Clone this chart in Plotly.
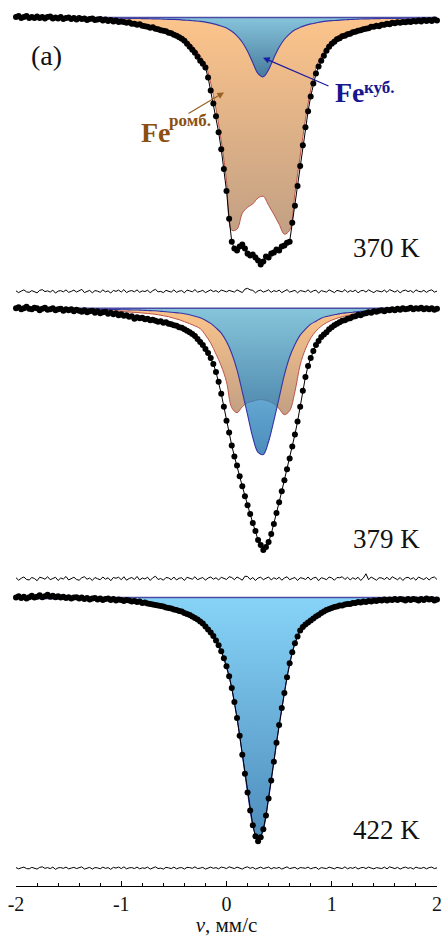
import numpy as np
import plotly.graph_objects as go

# ---------------- data (relative transmission, %) ----------------
# experimental spectra, velocity channels -2 ... 2 mm/s, step 0.025
T370_obs = [
    100.02, 100.06, 99.98, 100.02, 100.06, 99.98, 100.02, 99.98, 100.04, 99.98,
    100.02, 99.96, 100.02, 100.04, 99.96, 100.00, 99.96, 100.02, 99.94, 99.98,
    100.00, 99.94, 99.98, 99.92, 99.98, 99.94, 99.96, 99.90, 99.94, 99.96,
    99.90, 99.92, 99.94, 99.88, 99.92, 99.86, 99.90, 99.84, 99.88, 99.82,
    99.84,
    99.82, 99.78, 99.80, 99.74, 99.74, 99.70, 99.72, 99.66, 99.64, 99.62,
    99.58, 99.60, 99.54, 99.52, 99.48, 99.46, 99.44, 99.38, 99.36, 99.30,
    99.26, 99.20, 99.14, 99.06, 98.94, 98.82, 98.70, 98.58, 98.42, 98.26,
    98.14, 97.98, 97.58, 97.06, 96.54, 96.02, 95.38, 94.70, 93.90, 93.02,
    91.90, 90.98, 90.70, 90.62, 90.78, 90.86, 90.70, 90.50, 90.42, 90.46,
    90.34, 90.22, 90.06, 90.18, 90.38, 90.34, 90.50, 90.54, 90.66, 90.62,
    90.78, 90.82, 90.94, 90.98, 91.74, 92.42, 93.22, 94.02, 94.86, 95.58,
    96.22, 96.82, 97.34, 97.74, 98.02, 98.26, 98.46, 98.66, 98.82, 98.94,
    99.02, 99.12, 99.16, 99.24, 99.26, 99.32, 99.34, 99.40, 99.42, 99.46,
    99.48, 99.52, 99.54, 99.56, 99.62, 99.62, 99.66, 99.64, 99.70, 99.70,
    99.74, 99.72, 99.78, 99.76, 99.80, 99.78, 99.82, 99.80, 99.84, 99.82,
    99.86, 99.84, 99.88, 99.84, 99.90, 99.86, 99.90, 99.86, 99.92, 99.88,
]
T379_obs = [
    100.00, 100.04, 99.96, 100.00, 100.06, 99.98, 99.96, 100.02, 100.00, 99.92,
    99.98, 100.02, 99.94, 99.96, 100.00, 99.92, 99.96, 99.98, 99.90, 99.96,
    99.92, 99.96, 99.88, 99.94, 99.90, 99.86, 99.92, 99.84, 99.88, 99.90,
    99.82, 99.88, 99.80, 99.84, 99.86, 99.78, 99.82, 99.76, 99.80, 99.72,
    99.76,
    99.70, 99.72, 99.66, 99.68, 99.58, 99.64, 99.60, 99.62, 99.56, 99.58,
    99.52, 99.54, 99.50, 99.46, 99.48, 99.42, 99.44, 99.38, 99.36, 99.32,
    99.30, 99.24, 99.22, 99.16, 99.10, 99.04, 98.96, 98.88, 98.76, 98.64,
    98.52, 98.36, 98.20, 98.00, 97.76, 97.44, 97.04, 96.56, 96.04, 95.48,
    95.00, 94.48, 94.04, 93.68, 93.24, 92.84, 92.44, 92.08, 91.72, 91.36,
    91.04, 90.68, 90.48, 90.28, 90.40, 90.60, 90.92, 91.32, 91.76, 92.20,
    92.64, 93.08, 93.52, 93.96, 94.44, 94.92, 95.44, 96.04, 96.68, 97.24,
    97.68, 98.00, 98.28, 98.52, 98.68, 98.84, 98.94, 99.04, 99.16, 99.24,
    99.32, 99.38, 99.44, 99.50, 99.52, 99.58, 99.60, 99.66, 99.68, 99.74,
    99.72, 99.78, 99.80, 99.84, 99.82, 99.88, 99.86, 99.90, 99.92, 99.88,
    99.94, 99.92, 99.96, 99.92, 99.98, 99.94, 100.00, 99.96, 99.98, 100.02,
    99.96, 100.00, 99.98, 100.02, 99.96, 100.00, 99.96, 100.00, 99.94, 99.98,
]
T422_obs = [
    100.00, 100.06, 99.98, 100.04, 99.96, 100.02, 100.08, 100.00, 100.04, 100.10,
    100.02, 100.06, 100.12, 100.04, 100.08, 100.02, 100.06, 100.00, 100.04, 99.98,
    100.02, 99.96, 100.00, 100.02, 99.96, 100.00, 99.94, 99.98, 99.92, 99.96,
    99.98, 99.92, 99.96, 99.90, 99.94, 99.96, 99.90, 99.94, 99.88, 99.92,
    99.90,
    99.86, 99.90, 99.88, 99.84, 99.86, 99.82, 99.84, 99.78, 99.80, 99.76,
    99.74, 99.72, 99.70, 99.68, 99.66, 99.64, 99.60, 99.58, 99.56, 99.52,
    99.50, 99.46, 99.44, 99.38, 99.34, 99.30, 99.24, 99.18, 99.12, 99.04,
    98.96, 98.84, 98.72, 98.60, 98.46, 98.28, 98.08, 97.84, 97.56, 97.24,
    96.84, 96.36, 95.80, 95.16, 94.44, 93.68, 92.92, 92.16, 91.44, 90.84,
    90.40, 90.20, 90.36, 90.68, 91.24, 91.92, 92.64, 93.40, 94.16, 94.88,
    95.56, 96.16, 96.80, 97.36, 97.80, 98.16, 98.44, 98.68, 98.82, 98.92,
    99.00, 99.08, 99.16, 99.24, 99.30, 99.38, 99.44, 99.50, 99.54, 99.58,
    99.62, 99.64, 99.68, 99.68, 99.72, 99.74, 99.74, 99.78, 99.78, 99.82,
    99.80, 99.84, 99.82, 99.86, 99.84, 99.88, 99.86, 99.90, 99.88, 99.92,
    99.88, 99.92, 99.90, 99.94, 99.90, 99.94, 99.92, 99.88, 99.94, 99.90,
    99.94, 99.92, 99.88, 99.94, 99.90, 99.96, 99.92, 99.94, 99.88, 99.92,
]

# fitted subspectra, -2 ... 2 mm/s, step 0.05
T370_romb = [
    99.97, 99.97, 99.96, 99.96, 99.96, 99.96, 99.96, 99.96, 99.95, 99.95,
    99.94, 99.94, 99.94, 99.93, 99.93, 99.92, 99.92, 99.91, 99.90, 99.89,
    99.88, 99.86, 99.84, 99.80, 99.75, 99.70, 99.64, 99.58, 99.53, 99.46,
    99.38, 99.30, 99.17, 98.98, 98.74, 98.46, 98.12, 97.36, 96.32, 95.04,
    93.44, 91.44, 91.48, 92.12, 92.36, 92.50, 92.74, 92.80, 92.44, 92.08,
    91.68, 91.28, 91.44, 92.92, 94.42, 95.90, 97.08, 97.96, 98.44, 98.82,
    99.07, 99.24, 99.34, 99.41, 99.48, 99.54, 99.58, 99.63, 99.67, 99.71,
    99.74, 99.77, 99.80, 99.82, 99.83, 99.85, 99.87, 99.88, 99.88, 99.89,
    99.90,
]
T370_cub = [
    99.99, 99.99, 99.99, 99.99, 99.99, 99.99, 99.99, 99.98, 99.98, 99.98,
    99.98, 99.98, 99.98, 99.98, 99.98, 99.98, 99.97, 99.97, 99.97, 99.97,
    99.97, 99.96, 99.96, 99.96, 99.95, 99.95, 99.94, 99.94, 99.93, 99.92,
    99.92, 99.91, 99.89, 99.88, 99.86, 99.84, 99.81, 99.77, 99.72, 99.65,
    99.57, 99.44, 99.26, 99.00, 98.64, 98.18, 97.74, 97.61, 97.90, 98.37,
    98.80, 99.12, 99.34, 99.50, 99.60, 99.68, 99.74, 99.78, 99.82, 99.85,
    99.87, 99.88, 99.90, 99.91, 99.92, 99.93, 99.94, 99.94, 99.95, 99.95,
    99.96, 99.96, 99.96, 99.96, 99.97, 99.97, 99.97, 99.97, 99.98, 99.98,
    99.98,
]
T379_romb = [
    99.96, 99.96, 99.96, 99.96, 99.95, 99.95, 99.95, 99.94, 99.94, 99.94,
    99.93, 99.93, 99.92, 99.92, 99.91, 99.91, 99.90, 99.89, 99.88, 99.88,
    99.87, 99.86, 99.84, 99.83, 99.81, 99.79, 99.77, 99.74, 99.70, 99.66,
    99.60, 99.54, 99.46, 99.38, 99.29, 99.18, 98.92, 98.60, 98.16, 97.68,
    97.04, 96.00, 95.80, 96.04, 96.20, 96.26, 96.32, 96.32, 96.26, 96.16,
    95.96, 95.72, 95.88, 96.64, 97.72, 98.36, 98.80, 99.08, 99.28, 99.42,
    99.52, 99.60, 99.66, 99.71, 99.75, 99.78, 99.80, 99.82, 99.84, 99.86,
    99.87, 99.88, 99.89, 99.90, 99.91, 99.92, 99.92, 99.92, 99.93, 99.94,
    99.94,
]
T379_cub = [
    99.99, 99.99, 99.98, 99.98, 99.98, 99.98, 99.98, 99.97, 99.97, 99.97,
    99.97, 99.97, 99.96, 99.96, 99.96, 99.96, 99.96, 99.95, 99.95, 99.95,
    99.94, 99.94, 99.93, 99.93, 99.92, 99.91, 99.90, 99.89, 99.87, 99.85,
    99.83, 99.81, 99.78, 99.74, 99.68, 99.62, 99.52, 99.39, 99.21, 99.00,
    98.66, 98.18, 97.52, 96.64, 95.72, 94.80, 94.20, 94.12, 94.64, 95.48,
    96.40, 97.32, 98.04, 98.54, 98.92, 99.16, 99.36, 99.48, 99.60, 99.67,
    99.72, 99.76, 99.80, 99.82, 99.84, 99.87, 99.88, 99.90, 99.91, 99.92,
    99.92, 99.93, 99.94, 99.94, 99.95, 99.95, 99.96, 99.96, 99.96, 99.96,
    99.97,
]
T422_cub = [
    99.97, 99.97, 99.96, 99.96, 99.96, 99.96, 99.96, 99.95, 99.95, 99.95,
    99.94, 99.94, 99.94, 99.93, 99.93, 99.92, 99.92, 99.91, 99.90, 99.90,
    99.89, 99.88, 99.86, 99.85, 99.83, 99.80, 99.78, 99.74, 99.70, 99.66,
    99.60, 99.53, 99.44, 99.33, 99.19, 99.02, 98.82, 98.58, 98.28, 97.84,
    97.24, 96.36, 95.16, 93.68, 92.16, 90.84, 90.24, 90.68, 91.92, 93.40,
    94.88, 96.16, 97.36, 98.16, 98.68, 98.92, 99.08, 99.22, 99.36, 99.48,
    99.56, 99.63, 99.68, 99.72, 99.76, 99.79, 99.81, 99.83, 99.85, 99.86,
    99.88, 99.89, 99.90, 99.90, 99.91, 99.92, 99.92, 99.93, 99.93, 99.94,
    99.94,
]

# residuals (observed - fit), %, -2 ... 2 mm/s, step 0.025
R370 = [
    0.02, -0.05, 0.01, 0.06, -0.02, -0.04, 0.03, 0.00, -0.06, 0.04,
    0.07, -0.01, 0.02, -0.03, 0.05, -0.07, 0.01, 0.03, -0.02, 0.06,
    -0.04, 0.00, 0.05, -0.03, 0.02, 0.08, -0.05, -0.01, 0.04, -0.06,
    0.03, 0.01, -0.04, 0.06, -0.02, 0.02, -0.07, 0.04, 0.00, 0.05,
    -0.03, 0.07, -0.05, 0.01, 0.03, -0.02, 0.06, -0.04, 0.02, -0.01,
    0.05, -0.06, 0.03, 0.08, -0.02, 0.00, -0.05, 0.04, 0.02, -0.03,
    0.06, -0.04, 0.01, 0.03, -0.06, 0.05, 0.02, -0.02, 0.07, -0.03,
    0.00, 0.04, -0.05, 0.02, 0.06, -0.01, 0.03, -0.04, 0.05, 0.02,
    -0.02, 0.04, 0.01, -0.03, 0.06, 0.01, -0.05, 0.09, 0.12, 0.06,
    0.04, -0.06, 0.02, 0.05, -0.03, 0.01, 0.06, -0.04, 0.03, -0.01,
    0.05, -0.05, 0.02, 0.07, -0.03, 0.00, 0.04, -0.06, 0.03, 0.01,
    -0.02, 0.06, -0.04, 0.02, 0.05, -0.07, 0.03, 0.00, -0.03, 0.06,
    0.02, -0.05, 0.04, 0.01, -0.02, 0.07, -0.04, 0.03, -0.01, 0.05,
    -0.06, 0.02, 0.04, -0.03, 0.06, 0.00, -0.05, 0.03, 0.02, -0.02,
    0.05, -0.04, 0.07, 0.01, -0.03, 0.04, -0.06, 0.02, 0.05, -0.01,
    0.03, -0.05, 0.06, 0.00, -0.02, 0.04, -0.04, 0.03, 0.06, -0.03,
    0.01,
]
R379 = [
    0.04, -0.06, 0.02, 0.07, -0.03, -0.05, 0.05, 0.01, -0.08, 0.06,
    0.03, -0.02, 0.08, -0.04, 0.01, 0.06, -0.07, 0.03, -0.01, 0.09,
    -0.05, 0.02, 0.06, -0.03, -0.06, 0.04, 0.08, -0.02, 0.03, -0.07,
    0.05, 0.00, -0.04, 0.07, -0.02, 0.04, -0.08, 0.05, 0.02, 0.06,
    -0.04, 0.08, -0.06, 0.01, 0.05, -0.03, 0.09, -0.05, 0.03, -0.01,
    0.06, -0.07, 0.04, 0.10, -0.03, 0.01, -0.06, 0.05, 0.03, -0.04,
    0.07, -0.05, 0.02, 0.04, -0.07, 0.06, 0.03, -0.02, 0.08, -0.04,
    0.01, 0.05, -0.06, 0.03, 0.07, -0.02, 0.04, -0.05, 0.06, 0.02,
    -0.03, 0.08, 0.05, -0.04, 0.07, 0.01, -0.06, 0.10, 0.09, -0.03,
    0.05, -0.07, 0.03, 0.06, -0.04, 0.02, 0.07, -0.05, 0.04, -0.02,
    0.06, -0.06, 0.03, 0.08, -0.04, 0.01, 0.05, -0.07, 0.04, 0.02,
    -0.03, 0.07, -0.05, 0.03, 0.06, -0.08, 0.04, 0.01, -0.04, 0.07,
    0.03, -0.06, 0.05, 0.04, 0.08, -0.03, 0.06, -0.05, 0.04, -0.02,
    0.06, -0.07, 0.03, 0.20, -0.04, 0.07, 0.01, -0.06, 0.04, 0.03,
    -0.03, 0.06, -0.05, 0.08, 0.02, -0.04, 0.05, -0.07, 0.03, 0.06,
    -0.02, 0.04, -0.06, 0.07, 0.01, -0.03, 0.05, -0.05, 0.04, 0.07,
    -0.03,
]
R422 = [
    0.02, -0.03, 0.01, 0.04, -0.02, -0.03, 0.03, 0.00, -0.04, 0.03,
    0.05, -0.01, 0.02, -0.02, 0.04, -0.05, 0.01, 0.02, -0.01, 0.04,
    -0.03, 0.00, 0.03, -0.02, 0.01, 0.05, -0.04, -0.01, 0.03, -0.04,
    0.02, 0.01, -0.03, 0.04, -0.01, 0.02, -0.05, 0.03, 0.00, 0.04,
    -0.02, 0.05, -0.03, 0.01, 0.02, -0.02, 0.04, -0.03, 0.01, -0.01,
    0.04, -0.04, 0.02, 0.05, -0.02, 0.00, -0.04, 0.03, 0.01, -0.02,
    0.04, -0.03, 0.01, 0.02, -0.04, 0.03, 0.02, -0.01, 0.05, -0.02,
    0.00, 0.03, -0.04, 0.01, 0.04, -0.01, 0.02, -0.03, 0.04, 0.02,
    -0.02, 0.05, 0.03, -0.02, 0.04, 0.01, -0.04, 0.02, 0.05, -0.01,
    0.03, -0.04, 0.01, 0.04, -0.02, 0.01, 0.04, -0.03, 0.02, -0.01,
    0.03, -0.04, 0.02, 0.05, -0.02, 0.00, 0.03, -0.04, 0.02, 0.01,
    -0.01, 0.04, -0.03, 0.01, 0.03, -0.05, 0.02, 0.00, -0.02, 0.04,
    0.01, -0.03, 0.03, 0.01, -0.02, 0.05, -0.03, 0.02, -0.01, 0.04,
    -0.04, 0.01, 0.03, -0.02, 0.04, 0.00, -0.03, 0.02, 0.01, -0.02,
    0.04, -0.03, 0.05, 0.01, -0.02, 0.03, -0.04, 0.01, 0.04, -0.01,
    0.02, -0.04, 0.04, 0.00, -0.01, 0.03, -0.03, 0.02, 0.04, -0.02,
    0.01,
]

TEMPS = ["370 K", "379 K", "422 K"]
TICK_VALS = [-2, -1, 0, 1, 2]
TICK_TEXT = ["-2", "-1", "0", "1", "2"]

for arr in (T370_obs, T379_obs, T422_obs):
    assert len(arr) == 161, len(arr)
for arr in (T370_romb, T370_cub, T379_romb, T379_cub, T422_cub):
    assert len(arr) == 81, len(arr)

velocity = np.linspace(-2.0, 2.0, 161)
velocity_fit = np.linspace(-2.0, 2.0, 81)

# ---------------- geometry / style ----------------
W, H = 443, 937
ML, MR, MT, MB = 16, 6, 0, 46
PW = W - ML - MR
PH = H - MT - MB
PX_PER_PCT = 25.0
BASE = 100.0

# pixel bands of the three stacked panels: (top, bottom), baseline, residual line
PANELS = [
    dict(band=(0, 300), base=17.5, res=293),
    dict(band=(300, 591), base=310, res=582),
    dict(band=(591, 891), base=601, res=873),
]

SERIF = "Liberation Serif, Times New Roman, serif"
ORANGE_SCALE = [[0, "rgb(194,160,132)"], [1, "rgb(252,196,139)"]]
BLUE_SCALE = [[0, "rgba(18,102,165,0.75)"], [1, "rgba(95,197,245,0.75)"]]
ORANGE_LINE = "#bb5548"
BLUE_LINE = "#3434a6"
BASE_LINE = "#4b4ba4"

def pxx(x):
    return (x - ML) / PW

def pyy(y):
    return (PH - (y - MT)) / PH

fig = go.Figure()

obs = [T370_obs, T379_obs, T422_obs]
comps = [[("romb", T370_romb), ("cub", T370_cub)],
         [("romb", T379_romb), ("cub", T379_cub)],
         [("cub", T422_cub)]]
resids = [R370, R379, R422]

layout_axes = {}
for i, p in enumerate(PANELS):
    yname = "y" if i == 0 else f"y{i+1}"
    akey = "yaxis" if i == 0 else f"yaxis{i+1}"
    p0, p1 = p["band"]
    rng = [BASE - (p1 - p["base"]) / PX_PER_PCT, BASE + (p["base"] - p0) / PX_PER_PCT]
    dom = [(PH - p1) / PH, (PH - p0) / PH]
    layout_axes[akey] = dict(domain=dom, range=rng, visible=False, anchor="x",
                             fixedrange=True)
    res_off = BASE - (p["res"] - p["base"]) / PX_PER_PCT

    for kind, ycomp in comps[i]:
        # invisible baseline to fill against
        fig.add_trace(go.Scatter(x=velocity_fit, y=[BASE] * len(velocity_fit), mode="lines",
                                 line=dict(width=0, color="rgba(0,0,0,0)"),
                                 showlegend=False, hoverinfo="skip", yaxis=yname))
        if kind == "romb":
            fig.add_trace(go.Scatter(x=velocity_fit, y=ycomp, mode="lines",
                                     line=dict(color=ORANGE_LINE, width=1, shape="spline"),
                                     fill="tonexty",
                                     fillgradient=dict(type="vertical", colorscale=ORANGE_SCALE),
                                     showlegend=False, yaxis=yname))
        else:
            fig.add_trace(go.Scatter(x=velocity_fit, y=ycomp, mode="lines",
                                     line=dict(color=BLUE_LINE, width=1.1, shape="spline"),
                                     fill="tonexty",
                                     fillgradient=dict(type="vertical", colorscale=BLUE_SCALE),
                                     showlegend=False, yaxis=yname))
    # baseline line
    fig.add_trace(go.Scatter(x=[-2, 2], y=[BASE, BASE], mode="lines",
                             line=dict(color=BASE_LINE, width=1.5),
                             showlegend=False, yaxis=yname))
    # experimental points
    fig.add_trace(go.Scatter(x=velocity, y=obs[i], mode="lines+markers",
                             line=dict(color="black", width=1),
                             marker=dict(color="black", size=6),
                             cliponaxis=False, showlegend=False, yaxis=yname))
    # residual
    r = np.asarray(resids[i])
    fig.add_trace(go.Scatter(x=np.linspace(-2, 2, len(r)), y=r + res_off, mode="lines",
                             line=dict(color="black", width=1),
                             showlegend=False, yaxis=yname))

annotations = []
temp_y = [249, 542, 835]
for t, yy in zip(TEMPS, temp_y):
    annotations.append(dict(text=t, x=pxx(422), y=pyy(yy), xref="paper", yref="paper",
                            xanchor="right", yanchor="middle", showarrow=False,
                            font=dict(family=SERIF, size=27, color="#111")))
annotations.append(dict(text="(a)", x=pxx(46), y=pyy(56), xref="paper", yref="paper",
                        xanchor="center", yanchor="middle", showarrow=False,
                        font=dict(family=SERIF, size=28, color="#111")))
BROWN = "#8c4f12"
NAVY = "#16168e"
annotations += [
    dict(text="<b>Fe</b>", x=pxx(139), y=pyy(133), xref="paper", yref="paper",
         xanchor="left", yanchor="middle", showarrow=False,
         font=dict(family=SERIF, size=28, color=BROWN)),
    dict(text="<b>ромб.</b>", x=pxx(167), y=pyy(121), xref="paper", yref="paper",
         xanchor="left", yanchor="middle", showarrow=False,
         font=dict(family=SERIF, size=17, color=BROWN)),
    dict(text="<b>Fe</b>", x=pxx(333), y=pyy(93.5), xref="paper", yref="paper",
         xanchor="left", yanchor="middle", showarrow=False,
         font=dict(family=SERIF, size=28, color=NAVY)),
    dict(text="<b>куб.</b>", x=pxx(362), y=pyy(88), xref="paper", yref="paper",
         xanchor="left", yanchor="middle", showarrow=False,
         font=dict(family=SERIF, size=17, color=NAVY)),
    dict(text="", x=pxx(224), y=pyy(93), xref="paper", yref="paper",
         showarrow=True, ax=-37, ay=22, arrowhead=2, arrowsize=1.1, arrowwidth=1.2,
         arrowcolor="#9a6020", standoff=0, startstandoff=0),
    dict(text="", x=pxx(263), y=pyy(58), xref="paper", yref="paper",
         showarrow=True, ax=67, ay=29, arrowhead=2, arrowsize=1.1, arrowwidth=1.2,
         arrowcolor="#1c1ca0", standoff=0, startstandoff=0),
]

fig.update_layout(
    width=W, height=H,
    margin=dict(l=ML, r=MR, t=MT, b=MB, pad=0),
    paper_bgcolor="white", plot_bgcolor="white",
    showlegend=False,
    xaxis=dict(range=[-2, 2], anchor="y3", domain=[0, 1],
               showline=True, linecolor="black", linewidth=1,
               showgrid=False, zeroline=False,
               ticks="inside", ticklen=5, tickwidth=1, tickcolor="black",
               tickvals=TICK_VALS, ticktext=TICK_TEXT,
               tickfont=dict(family=SERIF, size=20, color="#111"),
               minor=dict(dtick=0.2, ticks="inside", ticklen=3, tickwidth=1,
                          tickcolor="black", showgrid=False),
               title=dict(text="<i>v</i>, мм/с", standoff=7,
                          font=dict(family=SERIF, size=21, color="#111")),
               fixedrange=True),
    annotations=annotations,
    **layout_axes,
)

fig.write_html("out.html")
